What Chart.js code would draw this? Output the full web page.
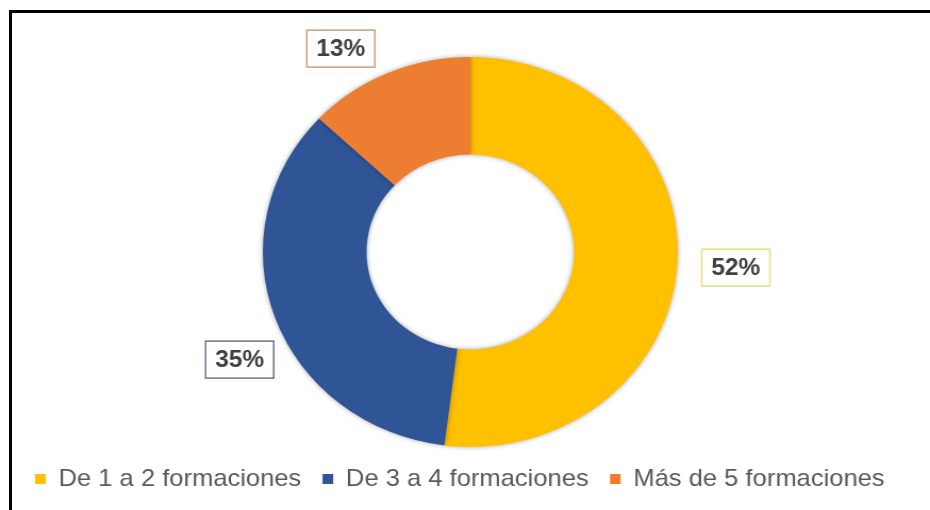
<!DOCTYPE html>
<html lang="es">
<head>
<meta charset="utf-8">
<title>Formaciones</title>
<script src="https://cdn.jsdelivr.net/npm/chart.js@4.4.1/dist/chart.umd.min.js"></script>
<style>
    html, body { margin: 0; padding: 0; background: #fff; overflow: hidden; }
    #wrap { position: relative; width: 930px; height: 510px; }
    .marco {
        position: absolute; left: 9px; top: 10px; right: -20px; bottom: -20px;
        border-left: 3px solid #000; border-top: 3px solid #000;
        pointer-events: none;
    }
</style>
</head>
<body>
<div id="wrap">
    <!-- canvas drawn at 874px wide and shown at 930px, so the ring comes out slightly wide -->
    <canvas id="formacionesChart" width="874" height="510" style="width:930px;height:510px"></canvas>
    <div class="marco"></div>
</div>
<script>
const categorias = ["De 1 a 2 formaciones", "De 3 a 4 formaciones", "Más de 5 formaciones"];
const porcentajes = [52, 35, 13];
const colores = ["#FFC000", "#2F5597", "#ED7D31"];
const bordesEtiqueta = ["#ECDD7E", "#66768A", "#C9A07E"];

// white boxes with the percentage, placed just outside each slice
const etiquetasPorcentaje = {
    id: "etiquetasPorcentaje",
    beforeDatasetsDraw(chart) {
        const ctx = chart.ctx;
        ctx.save();
        ctx.shadowColor = "rgba(0, 0, 0, 0.35)";
        ctx.shadowBlur = 5;
    },
    afterDatasetsDraw(chart, args, opts) {
        const ctx = chart.ctx;
        ctx.restore();
        const meta = chart.getDatasetMeta(0);
        const valores = chart.data.datasets[0].data;
        ctx.save();
        ctx.font = opts.font;
        ctx.textAlign = "center";
        ctx.textBaseline = "middle";
        meta.data.forEach(function (arco, i) {
            const p = arco.getProps(["x", "y", "startAngle", "endAngle", "outerRadius"], true);
            const ang = (p.startAngle + p.endAngle) / 2 + (opts.giro[i] || 0) * Math.PI / 180;
            const dist = p.outerRadius + opts.distancia[i];
            const cx = p.x + Math.cos(ang) * dist;
            const cy = p.y + Math.sin(ang) * dist;
            const texto = valores[i] + "%";
            const w = ctx.measureText(texto).width + opts.padX * 2;
            const h = opts.alto;
            ctx.fillStyle = "#fff";
            ctx.fillRect(cx - w / 2, cy - h / 2, w, h);
            ctx.strokeStyle = opts.bordes[i];
            ctx.lineWidth = 1.5;
            ctx.strokeRect(cx - w / 2, cy - h / 2, w, h);
            ctx.fillStyle = opts.color;
            ctx.fillText(texto, cx, cy + 1);
        });
        ctx.restore();
    }
};

function renderFormaciones() {
    const ctx = document.getElementById("formacionesChart").getContext("2d");
    new Chart(ctx, {
        type: "doughnut",
        data: {
            labels: categorias,
            datasets: [
                {
                    data: porcentajes,
                    backgroundColor: colores,
                    borderWidth: 0,
                    clip: false,
                },
            ],
        },
        options: {
            responsive: false,
            animation: false,
            events: [],
            cutout: "50%",
            layout: {
                padding: { top: 57, bottom: 9, left: 13, right: 3 },
            },
            plugins: {
                tooltip: { enabled: false },
                legend: {
                    position: "bottom",
                    align: "start",
                    labels: {
                        boxWidth: 10,
                        boxHeight: 10,
                        padding: 20,
                        color: "#595959",
                        font: { family: "'Liberation Sans', Arial, sans-serif", size: 24 },
                    },
                },
                etiquetasPorcentaje: {
                    font: "bold 23px 'Liberation Sans', Arial, sans-serif",
                    color: "#404040",
                    bordes: bordesEtiqueta,
                    distancia: [55, 47, 42],
                    giro: [0, -6.6, -7.5],
                    padX: 9,
                    alto: 37,
                },
            },
        },
        plugins: [etiquetasPorcentaje],
    });
}

document.addEventListener("DOMContentLoaded", renderFormaciones);
</script>
</body>
</html>
